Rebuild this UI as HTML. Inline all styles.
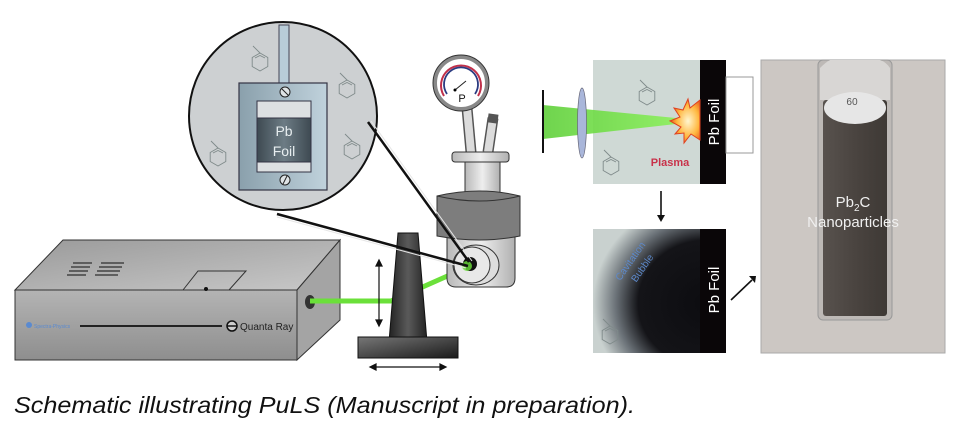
<!DOCTYPE html>
<html><head><meta charset="utf-8"><style>
html,body{margin:0;padding:0;background:#fff;}
svg{display:block;}
</style></head><body>
<svg width="976" height="428" viewBox="0 0 976 428" xmlns="http://www.w3.org/2000/svg" font-family="Liberation Sans, sans-serif">
<defs>
<linearGradient id="boxfront" x1="0" y1="0" x2="0" y2="1"><stop offset="0" stop-color="#b4b4b4"/><stop offset="1" stop-color="#8e8e8e"/></linearGradient>
<linearGradient id="boxtop" x1="0" y1="0" x2="1" y2="1"><stop offset="0" stop-color="#9a9a9a"/><stop offset="1" stop-color="#c8c8c8"/></linearGradient>
<linearGradient id="post" x1="0" y1="0" x2="1" y2="0"><stop offset="0" stop-color="#222"/><stop offset="0.5" stop-color="#5a5a5a"/><stop offset="1" stop-color="#222"/></linearGradient>
<linearGradient id="base" x1="0" y1="0" x2="1" y2="1"><stop offset="0" stop-color="#777"/><stop offset="1" stop-color="#1a1a1a"/></linearGradient>
<linearGradient id="metal" x1="0" y1="0" x2="1" y2="0"><stop offset="0" stop-color="#b8b8b8"/><stop offset="0.5" stop-color="#eeeeee"/><stop offset="1" stop-color="#b0b0b0"/></linearGradient>
<linearGradient id="frame" x1="0" y1="0" x2="1" y2="0"><stop offset="0" stop-color="#8aa0ac"/><stop offset="1" stop-color="#c0d2dc"/></linearGradient>
<linearGradient id="foil" x1="0" y1="0" x2="1" y2="0"><stop offset="0" stop-color="#3e4a52"/><stop offset="0.5" stop-color="#6d7c85"/><stop offset="1" stop-color="#3e4a52"/></linearGradient>
<linearGradient id="beam" x1="0" y1="0" x2="1" y2="0"><stop offset="0" stop-color="#5fcf3a"/><stop offset="1" stop-color="#8af05a"/></linearGradient>
<radialGradient id="bubble" cx="0.85" cy="0.6" r="0.85"><stop offset="0" stop-color="#0c0c10"/><stop offset="0.6" stop-color="#141418"/><stop offset="0.8" stop-color="#6b7278"/><stop offset="1" stop-color="#c9d1cf"/></radialGradient>
<linearGradient id="vial" x1="0" y1="0" x2="1" y2="0"><stop offset="0" stop-color="#58524e"/><stop offset="0.5" stop-color="#4a4440"/><stop offset="1" stop-color="#3e3935"/></linearGradient>
<radialGradient id="plasma" cx="0.6" cy="0.5" r="0.6"><stop offset="0" stop-color="#fff6d0"/><stop offset="0.6" stop-color="#ffb840"/><stop offset="1" stop-color="#e85a1a"/></radialGradient>
<g id="benz" fill="none" stroke="#7f8a8a" stroke-width="0.9"><polygon points="0,-9 7.8,-4.5 7.8,4.5 0,9 -7.8,4.5 -7.8,-4.5"/><line x1="0" y1="-9" x2="-7" y2="-16"/><polyline points="-5,-4 0,-6.5 5,-4" /></g>
</defs>

<!-- magnifier -->
<circle cx="283" cy="116" r="94" fill="#cdd0d2" stroke="#111" stroke-width="2"/>
<use href="#benz" x="260" y="62"/>
<use href="#benz" x="347" y="89"/>
<use href="#benz" x="218" y="157"/>
<use href="#benz" x="352" y="150"/>
<rect x="279" y="25" width="10" height="58" fill="#b8ccd8" stroke="#445" stroke-width="1"/>
<rect x="239" y="83" width="88" height="107" fill="url(#frame)" stroke="#334" stroke-width="1.2"/>
<rect x="257" y="101" width="54" height="71" fill="#dde0e2" stroke="#334" stroke-width="1"/>
<rect x="257" y="118" width="54" height="44" fill="url(#foil)" stroke="#334" stroke-width="1"/>
<text x="284" y="136" font-size="14" fill="#e8eef0" text-anchor="middle">Pb</text>
<text x="284" y="156" font-size="14" fill="#e8eef0" text-anchor="middle">Foil</text>
<circle cx="285" cy="92" r="5" fill="#dfe3e5" stroke="#222" stroke-width="1"/><line x1="282" y1="89" x2="288" y2="95" stroke="#222"/>
<circle cx="285" cy="180" r="5" fill="#dfe3e5" stroke="#222" stroke-width="1"/><line x1="283" y1="184" x2="287" y2="176" stroke="#222"/>

<!-- laser box -->
<polygon points="15,290 63,240 340,240 297,290" fill="url(#boxtop)" stroke="#333" stroke-width="1"/>
<polygon points="297,290 340,240 340,320 297,360" fill="#a4a4a4" stroke="#333" stroke-width="1"/>
<rect x="15" y="290" width="282" height="70" fill="url(#boxfront)" stroke="#333" stroke-width="1"/>
<g stroke="#444" stroke-width="1.6"><line x1="73" y1="263" x2="92" y2="263"/><line x1="71" y1="267" x2="90" y2="267"/><line x1="69" y1="271" x2="88" y2="271"/><line x1="67" y1="275" x2="86" y2="275"/>
<line x1="101" y1="263" x2="124" y2="263"/><line x1="99" y1="267" x2="122" y2="267"/><line x1="97" y1="271" x2="120" y2="271"/><line x1="95" y1="275" x2="118" y2="275"/></g>
<polyline points="183,290 198,271 246,271 229,290" fill="none" stroke="#333" stroke-width="1"/>
<circle cx="206" cy="289" r="2" fill="#111"/>
<line x1="80" y1="326" x2="222" y2="326" stroke="#111" stroke-width="1.8"/>
<circle cx="29" cy="325" r="3" fill="#5a8ad0"/><text x="34" y="328" font-size="5" fill="#5a8ad0">Spectra-Physics</text>
<circle cx="232" cy="326" r="5" fill="#ccc" stroke="#111" stroke-width="1.5"/><line x1="227" y1="326" x2="237" y2="326" stroke="#111" stroke-width="1.5"/>
<text x="240" y="330" font-size="10" fill="#222">Quanta Ray</text>
<ellipse cx="310" cy="302" rx="5" ry="7" fill="#333"/>

<!-- beam -->
<polyline points="310,301 391,301 470,266" fill="none" stroke="#6be03a" stroke-width="5" stroke-linejoin="round"/>

<!-- stand -->
<polygon points="398,233 418,233 427,342 389,342" fill="url(#post)" stroke="#111" stroke-width="1"/>
<rect x="358" y="337" width="100" height="21" fill="url(#base)" stroke="#111" stroke-width="1"/>
<g stroke="#111" stroke-width="1.2" fill="#111">
<line x1="379" y1="265" x2="379" y2="321"/><polygon points="376,266 379,260 382,266"/><polygon points="376,320 379,326 382,320"/>
<line x1="375" y1="367" x2="441" y2="367"/><polygon points="376,364 370,367 376,370"/><polygon points="440,364 446,367 440,370"/></g>

<!-- vessel -->
<line x1="467" y1="108" x2="471" y2="152" stroke="#555" stroke-width="11"/>
<line x1="467" y1="108" x2="471" y2="152" stroke="#dcdcdc" stroke-width="8"/>
<line x1="493" y1="118" x2="488" y2="152" stroke="#555" stroke-width="11"/>
<line x1="493" y1="118" x2="488" y2="152" stroke="#dcdcdc" stroke-width="8"/>
<rect x="488" y="114" width="10" height="9" fill="#555" transform="rotate(8 493 118)"/>
<circle cx="461" cy="83" r="26" fill="#fff" stroke="#888" stroke-width="4"/>
<circle cx="461" cy="83" r="28" fill="none" stroke="#333" stroke-width="1"/>
<path d="M444,96 A20,20 0 1 1 478,96" fill="none" stroke="#c0304a" stroke-width="2"/>
<path d="M447,94 A17,17 0 1 1 475,94" fill="none" stroke="#2a3a80" stroke-width="1.8"/>
<line x1="455" y1="90" x2="466" y2="81" stroke="#222" stroke-width="1"/><circle cx="455" cy="90" r="1.5"/>
<text x="462" y="102" font-size="11" fill="#111" text-anchor="middle">P</text>
<rect x="465" y="160" width="35" height="36" fill="url(#metal)" stroke="#333"/>
<rect x="452" y="152" width="57" height="10" rx="3" fill="url(#metal)" stroke="#333"/>
<path d="M447,233 L447,278 Q447,287 456,287 L506,287 Q515,287 515,278 L515,233 Z" fill="url(#metal)" stroke="#333"/>
<path d="M437,196 Q480,186 520,196 L520,236 Q480,244 437,236 Z" fill="#7d7d7d" stroke="#333"/>
<path d="M437,196 Q480,206 520,196" fill="none" stroke="#333"/>
<ellipse cx="476" cy="265" rx="23" ry="20" fill="#ddd" stroke="#333"/>
<ellipse cx="472" cy="265" rx="18" ry="18" fill="#e8e8e8" stroke="#333"/>
<circle cx="470" cy="264" r="7" fill="#111"/>
<circle cx="467" cy="266" r="5" fill="#6be03a" opacity="0.8"/>

<!-- connector lines from magnifier (on top) -->
<line x1="277" y1="214" x2="468" y2="266" stroke="#111" stroke-width="2.5"/>
<line x1="277" y1="217" x2="466" y2="268" stroke="#e6e6e6" stroke-width="1"/>
<line x1="368" y1="122" x2="469" y2="262" stroke="#111" stroke-width="2.5"/>
<line x1="371" y1="121" x2="472" y2="261" stroke="#e6e6e6" stroke-width="1"/>

<!-- right: top image -->
<rect x="593" y="60" width="133" height="124" fill="#cfd9d5"/>
<use href="#benz" x="647" y="96"/>
<use href="#benz" x="611" y="166"/>
<rect x="700" y="60" width="26" height="124" fill="#0a0608"/>
<rect x="726" y="77" width="27" height="76" fill="none" stroke="#999" stroke-width="1"/>
<polygon points="543,105 676,118 676,124 543,139" fill="url(#beam)" opacity="0.9"/>
<line x1="543" y1="90" x2="543" y2="153" stroke="#111" stroke-width="2"/>
<ellipse cx="582" cy="123" rx="4.5" ry="35" fill="#a9b6da" stroke="#667" stroke-width="0.7"/>
<polygon points="700,100 690,108 688,99 683,110 674,108 680,117 670,121 681,127 675,134 684,133 684,143 691,134 700,140" fill="url(#plasma)" stroke="#e04020" stroke-width="1"/>
<text x="670" y="166" font-size="11" font-weight="bold" fill="#c8324a" text-anchor="middle">Plasma</text>
<text transform="translate(719,122) rotate(-90)" font-size="15" fill="#fff" text-anchor="middle">Pb Foil</text>
<line x1="661" y1="191" x2="661" y2="216" stroke="#111" stroke-width="1.6"/><polygon points="657,215 661,222 665,215" fill="#111"/>

<!-- bottom image -->
<rect x="593" y="229" width="133" height="124" fill="url(#bubble)"/>
<use href="#benz" x="610" y="335"/>
<text transform="translate(633,263) rotate(-55)" font-size="10" fill="#5d88c8" text-anchor="middle">Cavitation</text>
<text transform="translate(645,270) rotate(-55)" font-size="10" fill="#5d88c8" text-anchor="middle">Bubble</text>
<rect x="700" y="229" width="26" height="124" fill="#0a0608"/>
<text transform="translate(719,290) rotate(-90)" font-size="15" fill="#fff" text-anchor="middle">Pb Foil</text>
<line x1="731" y1="300" x2="752" y2="280" stroke="#111" stroke-width="1.6"/><polygon points="749,276 756,276 755,283" fill="#111"/>

<!-- vial photo -->
<rect x="761" y="60" width="184" height="293" fill="#ccc7c3" stroke="#aaa" stroke-width="1"/>
<rect x="818" y="60" width="74" height="260" rx="5" fill="#bdb9b6" stroke="#999"/>
<path d="M820,68 Q826,62 830,60 L880,60 Q886,62 890,68 L890,100 L820,100 Z" fill="#d8d6d4"/>
<rect x="823" y="100" width="64" height="216" rx="3" fill="url(#vial)"/>
<ellipse cx="855" cy="108" rx="31" ry="16" fill="#e6e6e6"/>
<text x="852" y="106" font-size="10" fill="#555" text-anchor="middle" transform="rotate(180 852 102)">09</text>
<text x="853" y="207" font-size="15" fill="#f0f0f0" text-anchor="middle">Pb<tspan font-size="10" dy="4">2</tspan><tspan dy="-4">C</tspan></text>
<text x="853" y="227" font-size="15" fill="#f0f0f0" text-anchor="middle">Nanoparticles</text>

<!-- caption -->
<text x="14" y="413" font-size="23" font-style="italic" fill="#111" textLength="621" lengthAdjust="spacingAndGlyphs">Schematic illustrating PuLS (Manuscript in preparation).</text>
</svg>
</body></html>
